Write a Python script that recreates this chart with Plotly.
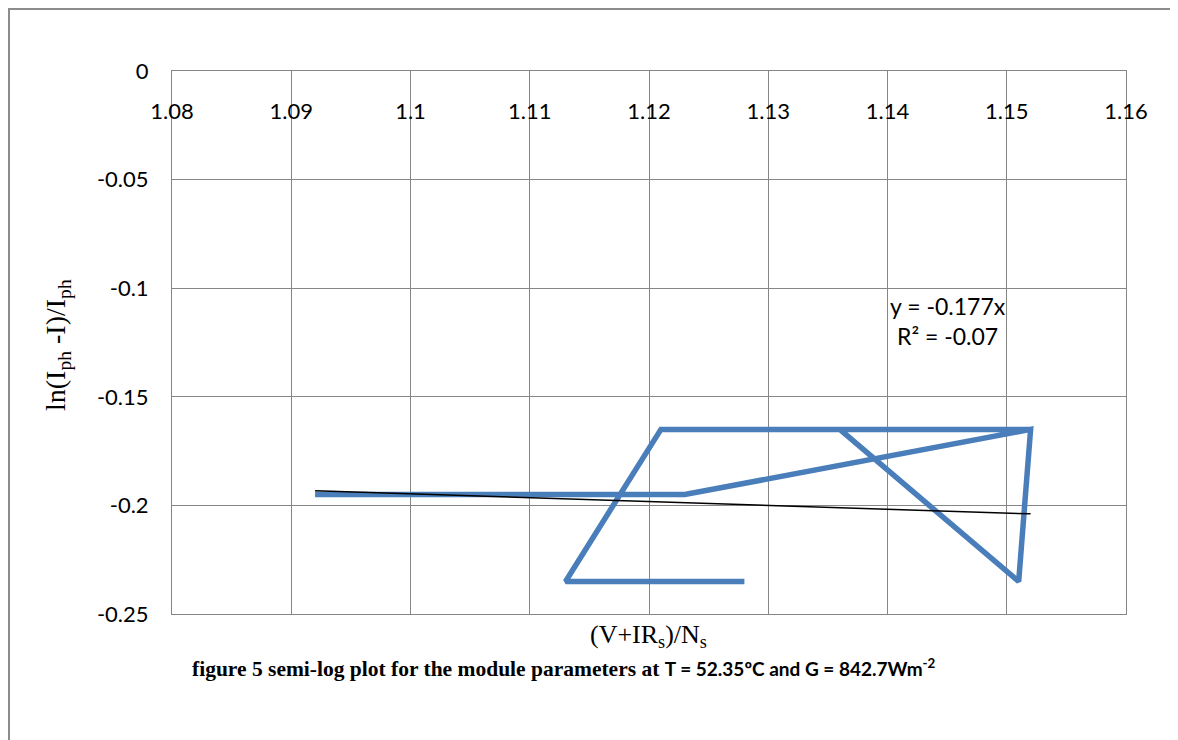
import plotly.graph_objects as go

# Data
x_vals = [1.092, 1.123, 1.152, 1.151, 1.136, 1.152, 1.121, 1.113, 1.128]
y_vals = [-0.195, -0.195, -0.165, -0.235, -0.165, -0.165, -0.165, -0.235, -0.235]

# Linear trendline (y = -0.177x) endpoints
trend_x = [1.092, 1.152]
trend_y = [-0.1933, -0.2039]

x_ticks = [1.08, 1.09, 1.10, 1.11, 1.12, 1.13, 1.14, 1.15, 1.16]
x_tick_labels = ["1.08", "1.09", "1.1", "1.11", "1.12", "1.13", "1.14", "1.15", "1.16"]
y_ticks = [0, -0.05, -0.1, -0.15, -0.2, -0.25]
y_tick_labels = ["0", "-0.05", "-0.1", "-0.15", "-0.2", "-0.25"]

OFF = 8  # page body margin
W, H = 1170, 732
# plot area in page pixels: x 172..1126, y 71..614
ML, MT = 172 - OFF, 71 - OFF
MR = W - (1126 - OFF)
MB = H - (614 - OFF)
PW, PH = W - ML - MR, H - MT - MB


def px(xp):  # page pixel x -> paper
    return (xp - OFF - ML) / PW


def py(yp):  # page pixel y -> paper
    return (H - MB - (yp - OFF)) / PH


GRID = "#868686"
TICKFONT = dict(family="Lato, Open Sans, sans-serif", size=22, color="black")

fig = go.Figure()
fig.add_trace(go.Scatter(
    x=x_vals, y=y_vals, mode="lines",
    line=dict(color="#4A7EBB", width=5.5),
    showlegend=False, hoverinfo="skip",
))
fig.add_trace(go.Scatter(
    x=trend_x, y=trend_y, mode="lines",
    line=dict(color="black", width=1.5),
    showlegend=False, hoverinfo="skip",
))

fig.update_layout(
    width=W, height=H,
    margin=dict(l=ML, r=MR, t=MT, b=MB, pad=0),
    paper_bgcolor="white", plot_bgcolor="white",
    xaxis=dict(
        range=[1.08, 1.16], tickvals=x_ticks, ticktext=x_tick_labels,
        side="top", ticklabelposition="inside", ticklabeloverflow="allow",
        ticklabelstandoff=34,
        showgrid=True, gridcolor=GRID, gridwidth=1,
        showline=True, linecolor=GRID, linewidth=1, mirror=True,
        zeroline=False, ticks="", tickfont=TICKFONT,
    ),
    yaxis=dict(
        range=[-0.25, 0], tickvals=y_ticks, ticktext=y_tick_labels,
        ticklabelstandoff=18,
        showgrid=True, gridcolor=GRID, gridwidth=1,
        showline=True, linecolor=GRID, linewidth=1, mirror=True,
        zeroline=False, ticks="", tickfont=TICKFONT,
    ),
    shapes=[dict(
        type="rect", xref="paper", yref="paper",
        x0=px(9), x1=px(1172), y0=py(780), y1=py(9),
        line=dict(color="#8c8c8c", width=2), fillcolor="rgba(0,0,0,0)",
        layer="below",
    )],
    annotations=[
        dict(
            text="y = -0.177x<br>R² = -0.07",
            xref="paper", yref="paper", x=px(948), y=py(321),
            xanchor="center", yanchor="middle", showarrow=False,
            font=dict(family="Lato, Open Sans, sans-serif", size=23, color="black"),
        ),
        dict(
            text="(V+IR<sub>s</sub>)/N<sub>s</sub>",
            xref="paper", yref="paper", x=px(648), y=py(636),
            xanchor="center", yanchor="middle", showarrow=False,
            font=dict(family="Liberation Serif, Times New Roman, serif", size=26, color="black"),
        ),
        dict(
            text="ln(I<sub>ph</sub> -I)/I<sub>ph</sub>",
            xref="paper", yref="paper", x=px(57), y=py(345),
            xanchor="center", yanchor="middle", showarrow=False, textangle=-90,
            font=dict(family="Liberation Serif, Times New Roman, serif", size=28, color="black"),
        ),
        dict(
            text=("<b>figure 5 semi-log plot for the module parameters at </b>"
                  "<span style='font-family:Lato, Open Sans, sans-serif;font-size:19px'>"
                  "<b>T = 52.35ºC and G = 842.7Wm<sup>-2</sup></b></span>"),
            xref="paper", yref="paper", x=px(190), y=py(668),
            xanchor="left", yanchor="middle", showarrow=False,
            font=dict(family="Liberation Serif, Times New Roman, serif", size=21.5, color="black"),
        ),
    ],
)

fig.write_html("out.html")
